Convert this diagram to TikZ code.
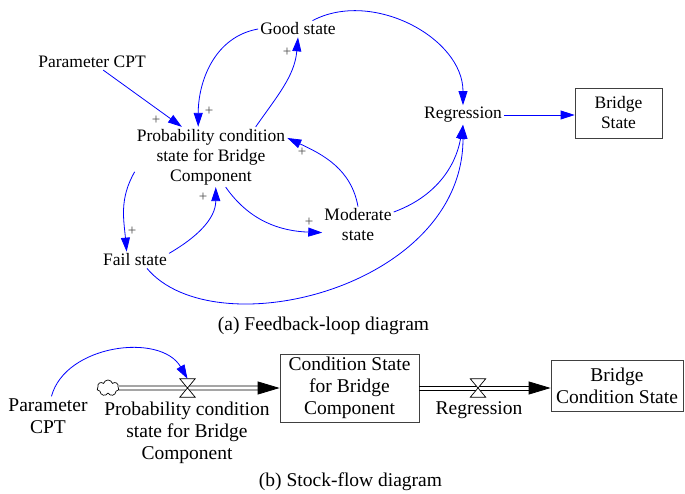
\documentclass[tikz,border=0pt]{standalone}
\usepackage{fontspec}
\setmainfont{Liberation Serif}
\usetikzlibrary{arrows.meta, shapes.symbols, calc}

\begin{document}
\begin{tikzpicture}[x=1pt, y=1pt,
		v/.style  = {font=\fontsize{17.5}{20}\selectfont, align=center, inner sep=2pt},
		sv/.style = {font=\fontsize{19.5}{22}\selectfont, align=center, inner sep=2pt},
		b/.style  = {rectangle, draw=black!75, line width=0.8pt},
		pl/.style = {font=\fontsize{15}{15}\selectfont, text=black!70, inner sep=0pt},
		r/.style  = {-{Triangle[length=14pt, width=9pt]}, blue, line width=0.8pt},
		p/.style  = {line width=0.8pt, shorten >=20pt},
		ph/.style = {-{Triangle[length=22pt, width=13pt]}, line width=0.8pt},
		vl/.style = {minimum width=15pt, minimum height=18pt, inner sep=0pt},
		capt/.style = {font=\fontsize{19.5}{22}\selectfont, inner sep=0pt}
		]
		\useasboundingbox (0,0) rectangle (685,-494);
		
		%Nodes (a)
		\node[v]	(good)	at (298,-29)	{Good state};
		\node[v]	(param)	at (92,-62)		{Parameter CPT};
		\node[v]	(prob)	at (211,-157)	{Probability condition\\state for Bridge\\Component};
		\node[v]	(regr)	at (463,-115)	{Regression};
		\node[v, b, minimum width=87pt, minimum height=50pt]	(bstate)	at (618.5,-113)	{Bridge\\State};
		\node[v]	(moder)	at (358,-225)	{Moderate\\state};
		\node[v]	(fail)	at (135,-260)	{Fail state};
		\node[capt]	(capa)	at (323.5,-326)	{(a) Feedback-loop diagram};
		
		%Polarity
		\node[pl]	(p1)	at (156,-120)	{+};
		\node[pl]	(p2)	at (209,-111)	{+};
		\node[pl]	(p3)	at (287,-52)	{+};
		\node[pl]	(p4)	at (302,-152)	{+};
		\node[pl]	(p5)	at (309,-222)	{+};
		\node[pl]	(p6)	at (132,-231)	{+};
		\node[pl]	(p7)	at (203,-197)	{+};
		
		%Lines (a)
		\draw[r] (param) -- (prob.134);
		\draw[r] (good.west) to[out=190, in=90] (prob.113);
		\draw[r] (prob.34) to[out=55, in=-95] (good.south);
		\draw[r] (good.30) to[out=28, in=90] (regr.north);
		\draw[r] (moder.north) to[out=100, in=-25] (prob.14);
		\draw[r] (prob.-64) to[out=-55, in=178] (moder.192);
		\draw[r] (prob.191) to[out=-120, in=95] (fail.135);
		\draw[r] (fail.11) to[out=30, in=-90] (prob.-81);
		\draw[r] (moder.20) to[out=20, in=-100] (regr.south);
		\draw[r] (fail.-35) .. controls +(-50:105) and +(-90:163) .. (regr.south);
		\draw[r] (regr.east) -- (regr.east -| bstate.west);
		
		%Nodes (b)
		\node[cloud, draw, cloud puffs=7, minimum width=22pt, minimum height=16pt, inner sep=0pt, line width=0.7pt]	(src)	at (108,-388)	{};
		\node[sv]	(param2)	at (48,-416)	{Parameter\\CPT};
		\node[vl]	(v1)	at (187.5,-388)	{};
		\node[sv]	(flow1)	at (187,-433)	{Probability condition\\state for Bridge\\Component};
		\node[sv, b, minimum width=139pt, minimum height=68pt]	(stock)	at (349.5,-388)	{Condition State\\for Bridge\\Component};
		\node[vl]	(v2)	at (478,-388)	{};
		\node[sv]	(flow2)	at (479,-410)	{Regression};
		\node[sv, b, minimum width=132pt, minimum height=51pt]	(stock2)	at (617,-386)	{Bridge\\Condition State};
		\node[capt]	(capb)	at (350.5,-482)	{(b) Stock-flow diagram};
		\coordinate (s2in) at (stock.east -| stock2.west);
		
		%Lines (b)
		\draw[p] ([yshift=2pt]src.east) -- ([yshift=2pt]stock.west);
		\draw[p] ([yshift=-2pt]src.east) -- ([yshift=-2pt]stock.west);
		\draw[ph] ($(stock.west)+(-22,0)$) -- (stock.west);
		\draw[p] ([yshift=2pt]stock.east) -- ([yshift=2pt]s2in);
		\draw[p] ([yshift=-2pt]stock.east) -- ([yshift=-2pt]s2in);
		\draw[ph] ($(s2in)+(-22,0)$) -- (s2in);
		\draw[fill=white, line width=0.7pt] (v1.north west) -- (v1.north east) -- (v1.south west) -- (v1.south east) -- cycle;
		\draw[fill=white, line width=0.7pt] (v2.north west) -- (v2.north east) -- (v2.south west) -- (v2.south east) -- cycle;
		\draw[r] (param2.80) to[out=75, in=120] (v1.north);
		
	\end{tikzpicture}
\end{document}
